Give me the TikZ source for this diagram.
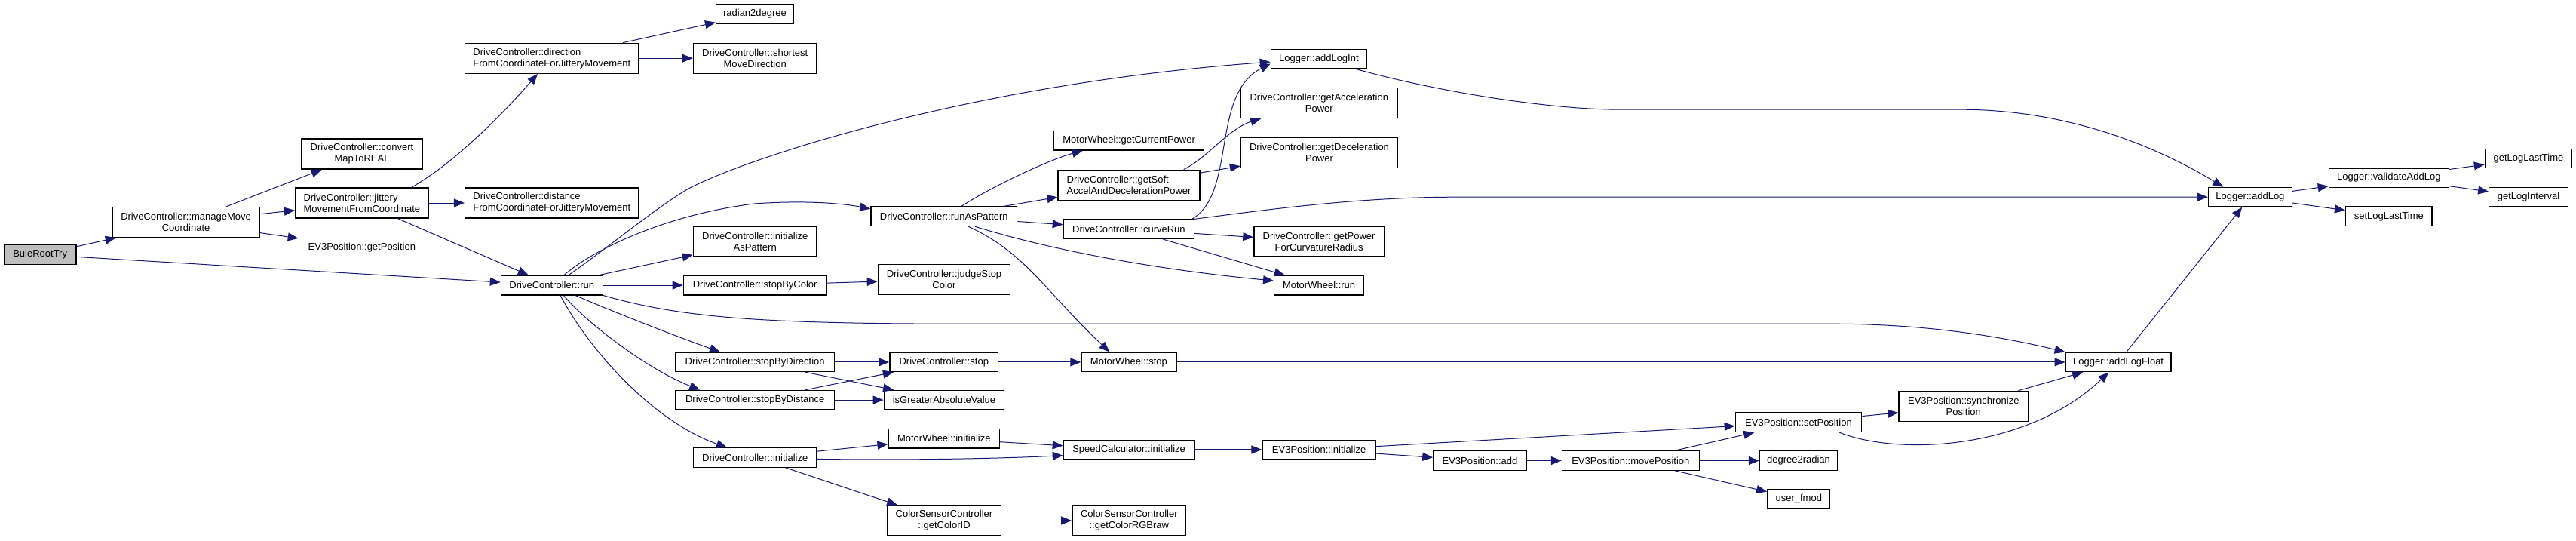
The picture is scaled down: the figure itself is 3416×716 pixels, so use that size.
\documentclass[tikz,border=0pt]{standalone}
\usepackage{fontspec}
\setmainfont{Liberation Sans}
\usetikzlibrary{arrows.meta}
\definecolor{edgecol}{HTML}{191970}
\definecolor{rootfill}{HTML}{BFBFBF}
\tikzset{
  fn/.style={draw=black, line width=1.3pt, fill=white, rectangle, inner sep=0pt, align=center, minimum height=25.5pt},
  fn2/.style={fn, minimum height=40pt},
  lft/.style={align=left},
  cg/.style={draw=edgecol, line width=1pt, -{Triangle[length=14pt,width=11pt]}}
}
\begin{document}
\begin{tikzpicture}[x=1pt,y=-1pt,font=\fontsize{13}{15}\selectfont]
\useasboundingbox (0,0) rectangle (3416,716);
\fill[white] (0,0) rectangle (3416,716);
% nodes
\node[fn, fill=rootfill, minimum width=95.5pt] (bule) at (53.2,337.5) {BuleRootTry};
\node[fn2, minimum width=195pt] (mmc) at (246.6,294.5) {DriveController::manageMove\\Coordinate};
\node[fn2, minimum width=160.7pt] (conv) at (480,204.1) {DriveController::convert\\MapToREAL};
\node[fn2, lft, minimum width=176.8pt] (jit) at (479.9,269) {DriveController::jittery\\MovementFromCoordinate};
\node[fn, minimum width=167pt] (gpos) at (479.9,327.9) {EV3Position::getPosition};
\node[fn2, lft, minimum width=230.4pt] (dir) at (731.8,77.2) {DriveController::direction\\FromCoordinateForJitteryMovement};
\node[fn2, lft, minimum width=230.4pt] (dist) at (731.8,269) {DriveController::distance\\FromCoordinateForJitteryMovement};
\node[fn, minimum width=134.8pt] (run) at (731.8,378.1) {DriveController::run};
\node[fn, minimum width=102.7pt] (r2d) at (1001,18.3) {radian2degree};
\node[fn2, minimum width=163.8pt] (smd) at (1001.2,77.2) {DriveController::shortest\\MoveDirection};
\node[fn2, minimum width=163.8pt] (iap) at (1001.2,320.1) {DriveController::initialize\\AsPattern};
\node[fn, minimum width=189.8pt] (sbc) at (1001.2,378.1) {DriveController::stopByColor};
\node[fn, minimum width=211.2pt] (sbdir) at (1001.2,479.9) {DriveController::stopByDirection};
\node[fn, minimum width=211.2pt] (sbdist) at (1001.2,530.1) {DriveController::stopByDistance};
\node[fn, minimum width=163.8pt] (dcinit) at (1001.2,606.4) {DriveController::initialize};
\node[fn, minimum width=193.8pt] (rap) at (1251.8,286.8) {DriveController::runAsPattern};
\node[fn2, minimum width=175.4pt] (jsc) at (1252,370.3) {DriveController::judgeStop\\Color};
\node[fn, minimum width=143.8pt] (dcstop) at (1251.8,479.9) {DriveController::stop};
\node[fn, minimum width=159.4pt] (iga) at (1252,530.1) {isGreaterAbsoluteValue};
\node[fn, minimum width=147.3pt] (mwinit) at (1251.8,581.3) {MotorWheel::initialize};
\node[fn2, minimum width=151.4pt] (gcid) at (1252,690) {ColorSensorController\\::getColorID};
\node[fn, minimum width=198.6pt] (gcp) at (1497.1,186.3) {MotorWheel::getCurrentPower};
\node[fn2, lft, minimum width=188pt] (gsa) at (1497.1,245.2) {DriveController::getSoft\\AccelAndDecelerationPower};
\node[fn, minimum width=173.2pt] (crun) at (1496.9,303.7) {DriveController::curveRun};
\node[fn, minimum width=125.9pt] (mwstop) at (1496.9,479.9) {MotorWheel::stop};
\node[fn, minimum width=173.6pt] (scinit) at (1497.1,595.9) {SpeedCalculator::initialize};
\node[fn2, minimum width=150.9pt] (rgb) at (1497.3,690) {ColorSensorController\\::getColorRGBraw};
\node[fn, minimum width=127.2pt] (ali) at (1748.9,78.1) {Logger::addLogInt};
\node[fn2, minimum width=207.6pt] (gap) at (1749.3,136.5) {DriveController::getAcceleration\\Power};
\node[fn2, minimum width=208pt] (gdp) at (1749.5,202.3) {DriveController::getDeceleration\\Power};
\node[fn2, minimum width=172.4pt] (gpfc) at (1749.1,320.1) {DriveController::getPower\\ForCurvatureRadius};
\node[fn, minimum width=118.8pt] (mwrun) at (1749.1,378.1) {MotorWheel::run};
\node[fn, minimum width=150pt] (evinit) at (1749.1,595.9) {EV3Position::initialize};
\node[fn, minimum width=123.2pt] (evadd) at (1962.5,610.5) {EV3Position::add};
\node[fn, minimum width=181.7pt] (mpos) at (2162.3,610.5) {EV3Position::movePosition};
\node[fn, minimum width=167.5pt] (spos) at (2385,559.8) {EV3Position::setPosition};
\node[fn, minimum width=103.1pt] (d2r) at (2385,610.5) {degree2radian};
\node[fn, minimum width=83pt] (fmod) at (2385.3,661.2) {user\_fmod};
\node[fn2, minimum width=171.8pt] (sync) at (2603.8,538.4) {EV3Position::synchronize\\Position};
\node[fn, minimum width=139.7pt] (alf) at (2809.1,479.9) {Logger::addLogFloat};
\node[fn, minimum width=110.7pt] (alog) at (2983.9,261.2) {Logger::addLog};
\node[fn, minimum width=158.9pt] (val) at (3167.8,235.6) {Logger::validateAddLog};
\node[fn, minimum width=114.3pt] (sllt) at (3167.8,286.8) {setLogLastTime};
\node[fn, minimum width=115.1pt] (gllt) at (3353,210) {getLogLastTime};
\node[fn, minimum width=104.5pt] (gli) at (3353,261.2) {getLogInterval};
% straight edges
\draw[cg] (bule) -- (mmc);
\draw[cg] (bule) -- (run);
\draw[cg] (mmc) -- (conv);
\draw[cg] (mmc) -- (jit);
\draw[cg] (mmc) -- (gpos);
\draw[cg] (jit) -- (dist);
\draw[cg] (jit) -- (run);
\draw[cg] (dir) -- (r2d);
\draw[cg] (dir) -- (smd);
\draw[cg] (run) -- (iap);
\draw[cg] (run) -- (sbc);
\draw[cg] (sbc) -- (jsc);
\draw[cg] (rap) -- (gsa);
\draw[cg] (rap) -- (crun);
\draw[cg] (gsa) -- (gdp);
\draw[cg] (crun) -- (gpfc);
\draw[cg] (crun) -- (mwrun);
\draw[cg] (sbdir) -- (dcstop);
\draw[cg] (sbdir) -- (iga);
\draw[cg] (sbdist) -- (dcstop);
\draw[cg] (sbdist) -- (iga);
\draw[cg] (dcstop) -- (mwstop);
\draw[cg] (mwstop) -- (alf);
\draw[cg] (dcinit) -- (mwinit);
\draw[cg] (dcinit) -- (gcid);
\draw[cg] (mwinit) -- (scinit);
\draw[cg] (gcid) -- (rgb);
\draw[cg] (scinit) -- (evinit);
\draw[cg] (evinit) -- (spos);
\draw[cg] (evinit) -- (evadd);
\draw[cg] (evadd) -- (mpos);
\draw[cg] (mpos) -- (spos);
\draw[cg] (mpos) -- (d2r);
\draw[cg] (mpos) -- (fmod);
\draw[cg] (spos) -- (sync);
\draw[cg] (sync) -- (alf);
\draw[cg] (alf) -- (alog);
\draw[cg] (alog) -- (val);
\draw[cg] (alog) -- (sllt);
\draw[cg] (val) -- (gllt);
\draw[cg] (val) -- (gli);
% curved edges
\draw[cg] ([xshift=65.6pt]jit.north) .. controls (600,218) and (665,153) .. ([xshift=-18.8pt]dir.south);
\draw[cg] ([xshift=22pt]run.north) .. controls (800,333) and (870,275) .. (913,250) .. controls (1000,205) and (1300,110) .. ([yshift=-4pt]ali.west);
\draw[cg] ([xshift=16pt]run.north) .. controls (785,332) and (880,285) .. (1000,270) .. controls (1070,265) and (1120,270) .. ([yshift=10pt]rap.west);
\draw[cg] (run.south east) .. controls (900,420) and (1000,429.2) .. (1280,429.2) -- (2430,429.2) .. controls (2550,429.2) and (2650,445) .. (alf.north west);
\draw[cg] ([xshift=31.2pt]run.south) .. controls (810,412) and (900,447) .. ([xshift=-46.2pt]sbdir.north);
\draw[cg] ([xshift=15.6pt]run.south) .. controls (780,430) and (860,490) .. ([xshift=-73pt]sbdist.north);
\draw[cg] ([xshift=11.2pt]run.south) .. controls (785,470) and (870,560) .. ([xshift=-37.2pt]dcinit.north);
\draw[cg] ([xshift=23.2pt]rap.north) .. controls (1310,250) and (1390,212) .. ([xshift=-61.4pt]gcp.south);
\draw[cg] ([xshift=41.1pt]rap.south) .. controls (1350,318) and (1480,352) .. ([yshift=6pt]mwrun.west);
\draw[cg] ([xshift=32.2pt]rap.south) .. controls (1360,335) and (1385,385) .. ([xshift=-25.5pt]mwstop.north);
\draw[cg] ([xshift=72.5pt]gsa.north) .. controls (1600,210) and (1630,170) .. ([xshift=-77pt]gap.south);
\draw[cg] ([xshift=83.9pt]crun.north) .. controls (1640,255) and (1605,125) .. ([yshift=-6.4pt]ali.west);
\draw[cg] (crun.north east) .. controls (1680,278) and (1800,261.2) .. (1930,261.2) -- (alog.west);
\draw[cg] ([xshift=49.3pt]ali.south) .. controls (1900,120) and (2050,145.2) .. (2150,145.2) -- (2600,145.2) .. controls (2750,145.2) and (2870,200) .. ([xshift=-35.7pt]alog.north);
\draw[cg] ([yshift=-2pt]dcinit.east) .. controls (1200,610) and (1320,608) .. ([yshift=-7.8pt]scinit.west);
\draw[cg] ([xshift=54.3pt]spos.south) .. controls (2520,605) and (2690,595) .. ([xshift=-12.7pt]alf.south);
\end{tikzpicture}
\end{document}
